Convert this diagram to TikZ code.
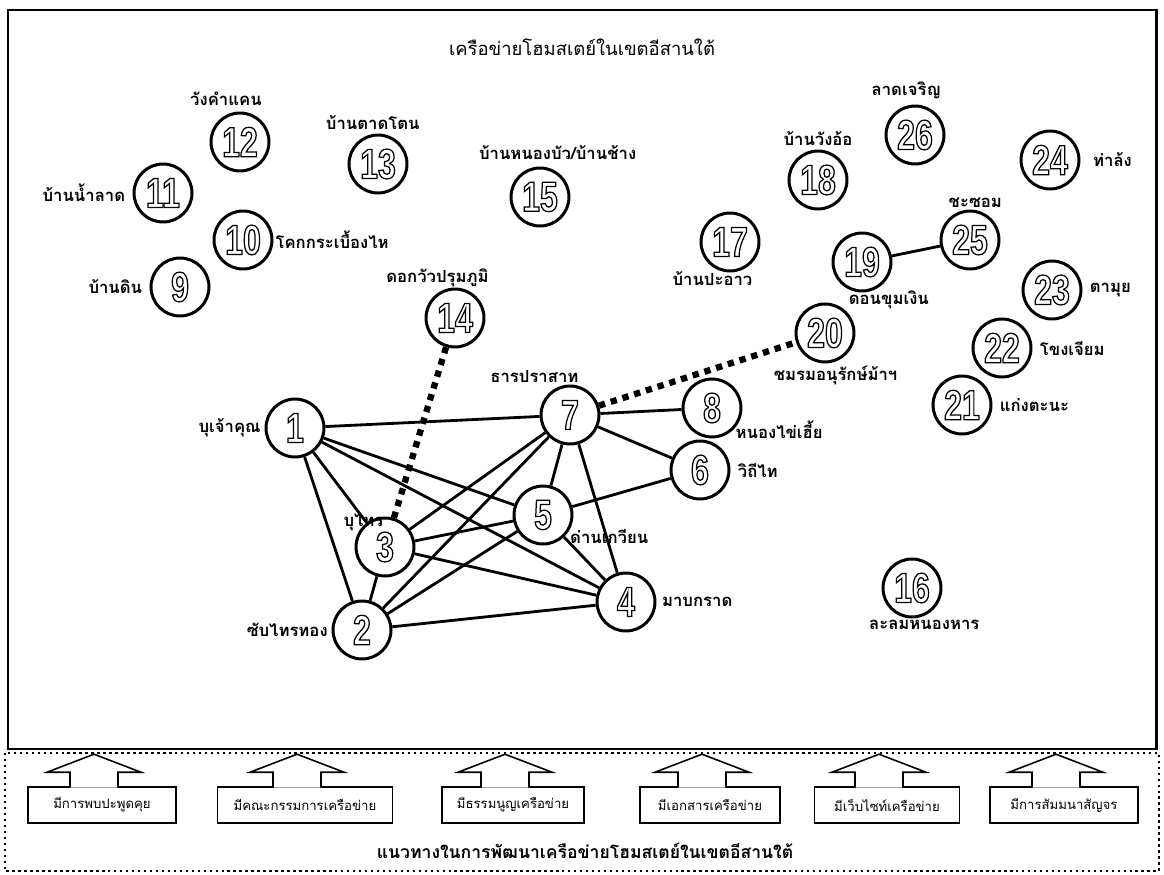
\documentclass[tikz,border=0pt]{standalone}
\usepackage{fontspec}
\setmainfont[Script=Thai]{Loma}
\newfontfamily\numfont[FakeStretch=0.76]{Liberation Sans}
\usetikzlibrary{positioning}

\newcommand{\hollow}[1]{\special{pdf:literal direct q 1 Tr 0.7 w}#1\special{pdf:literal direct Q}}

\begin{document}
\begin{tikzpicture}[x=0.02cm,y=-0.02cm,auto,node distance=1pt,
	site node/.style={circle,draw,line width=1.7pt,minimum size=1.16cm,inner sep=0pt,
		font=\numfont\bfseries\fontsize{24}{24}\selectfont},
	name label/.style={inner sep=1pt,font=\bfseries\fontsize{9.5}{11}\selectfont},
	link/.style={line width=1.6pt},
	loose link/.style={line width=3.6pt,dash pattern=on 3.6pt off 3.4pt},
	plan box/.style={draw,line width=0.9pt,inner sep=2pt,minimum height=0.72cm,
		font=\fontsize{7.5}{8}\selectfont},
	plan arrow/.style={draw,line width=0.9pt,fill=white}]
	\useasboundingbox (0,0) rectangle (1164,875);
	
	% frames
	\draw[line width=1.7pt] (8,10) rectangle (1156,749);
	\draw[line width=1.4pt,dash pattern=on 1.4pt off 2pt] (5,753) rectangle (1159,871);
	\node[font=\fontsize{10.5}{12}\selectfont] (title) at (582,47) {เครือข่ายโฮมสเตย์ในเขตอีสานใต้};
	\node[font=\bfseries\fontsize{10}{12}\selectfont] (guide) at (585,851) {แนวทางในการพัฒนาเครือข่ายโฮมสเตย์ในเขตอีสานใต้};
	
	% homestays
	\node[site node] (n1) at (295,428) {\hollow{1}};
	\node[site node] (n2) at (362,630) {\hollow{2}};
	\node[site node] (n3) at (385,547) {\hollow{3}};
	\node[site node] (n4) at (626,602) {\hollow{4}};
	\node[site node] (n5) at (543,515) {\hollow{5}};
	\node[site node] (n6) at (700,470) {\hollow{6}};
	\node[site node] (n7) at (570,415) {\hollow{7}};
	\node[site node] (n8) at (712,408) {\hollow{8}};
	\node[site node] (n9) at (180,287) {\hollow{9}};
	\node[site node] (n10) at (243,240) {\hollow{10}};
	\node[site node] (n11) at (163,193) {\hollow{11}};
	\node[site node] (n12) at (240,142) {\hollow{12}};
	\node[site node] (n13) at (378,164) {\hollow{13}};
	\node[site node] (n14) at (455,318) {\hollow{14}};
	\node[site node] (n15) at (540,197) {\hollow{15}};
	\node[site node] (n16) at (912,588) {\hollow{16}};
	\node[site node] (n17) at (730,242) {\hollow{17}};
	\node[site node] (n18) at (818,180) {\hollow{18}};
	\node[site node] (n19) at (862,262) {\hollow{19}};
	\node[site node] (n20) at (825,333) {\hollow{20}};
	\node[site node] (n21) at (962,405) {\hollow{21}};
	\node[site node] (n22) at (1002,348) {\hollow{22}};
	\node[site node] (n23) at (1052,290) {\hollow{23}};
	\node[site node] (n24) at (1050,160) {\hollow{24}};
	\node[site node] (n25) at (970,240) {\hollow{25}};
	\node[site node] (n26) at (915,135) {\hollow{26}};
	
	\node[name label] (l1) [left=of n1] {บุเจ้าคุณ};
	\node[name label] (l2) [left=of n2] {ซับไทรทอง};
	\node[name label] (l3) [above=-4pt of n3.north west] {บุไทร};
	\node[name label] (l4) [right=2pt of n4] {มาบกราด};
	\node[name label] (l5) [right=2pt of n5.south east] {ด่านเกวียน};
	\node[name label] (l6) [right=3pt of n6] {วิถีไท};
	\node[name label] (l7) [above=5pt of n7.north west, xshift=-8pt] {ธารปราสาท};
	\node[name label] (l8) [right=0pt of n8.south east] {หนองไข่เฮี้ย};
	\node[name label] (l9) [left=3pt of n9] {บ้านดิน};
	\node[name label] (l10) [right=0pt of n10] {โคกกระเบื้องไห};
	\node[name label] (l11) [left=3pt of n11] {บ้านน้ำลาด};
	\node[name label] (l12) [above=2pt of n12, xshift=-8pt] {วังคำแคน};
	\node[name label] (l13) [above=1pt of n13, xshift=-3pt] {บ้านตาดโตน};
	\node[name label] (l14) [above=-1pt of n14, xshift=-10pt] {ดอกวัวปรุมภูมิ};
	\node[name label] (l15) [above=3pt of n15, xshift=10pt] {บ้านหนองบัว/บ้านช้าง};
	\node[name label] (l16) [below=0pt of n16, xshift=7pt] {ละลมหนองหาร};
	\node[name label] (l17) [below=-2pt of n17, xshift=-10pt] {บ้านปะอาว};
	\node[name label] (l18) [above=1pt of n18] {บ้านวังอ้อ};
	\node[name label] (l19) [below=3pt of n19.south east, xshift=3pt] {ดอนขุมเงิน};
	\node[name label] (l20) [below=0pt of n20, xshift=6pt] {ชมรมอนุรักษ์ม้าฯ};
	\node[name label] (l21) [right=3pt of n21] {แก่งตะนะ};
	\node[name label] (l22) [right=3pt of n22] {โขงเจียม};
	\node[name label] (l23) [right=3pt of n23] {ตามุย};
	\node[name label] (l24) [right=6pt of n24] {ท่าล้ง};
	\node[name label] (l25) [above=0pt of n25, xshift=3pt] {ชะซอม};
	\node[name label] (l26) [above=2pt of n26, xshift=-5pt] {ลาดเจริญ};
	
	\path[link]
	(n1) edge (n7) edge (n2) edge (n3) edge (n5) edge (n4)
	(n7) edge (n8) edge (n6) edge (n5) edge (n4) edge (n3) edge (n2)
	(n5) edge (n3) edge (n2) edge (n4) edge (n6)
	(n3) edge (n2) edge (n4)
	(n2) edge (n4)
	(n19) edge (n25);
	\path[loose link]
	(n14) edge (n3)
	(n7) edge (n20);
	
	% development guidelines
	\node[plan box, minimum width=2.95cm] (b1) at (102,805) {มีการพบปะพูดคุย};
	\node[plan box, minimum width=3.5cm] (b2) at (305,805) {มีคณะกรรมการเครือข่าย};
	\node[plan box, minimum width=2.85cm] (b3) at (513,805) {มีธรรมนูญเครือข่าย};
	\node[plan box, minimum width=2.8cm] (b4) at (710,805) {มีเอกสารเครือข่าย};
	\node[plan box, minimum width=2.9cm] (b5) at (887,805) {มีเว็บไซท์เครือข่าย};
	\node[plan box, minimum width=2.95cm] (b6) at (1064,805) {มีการสัมมนาสัญจร};
	
	\draw[plan arrow] (b1.north) ++(-32,1.5) -- ++(0,-15.5) -- ++(-23,0) -- ++(47,-18) -- ++(47,18) -- ++(-23,0) -- ++(0,15.5);
	\draw[plan arrow] (b2.north) ++(-32,1.5) -- ++(0,-15.5) -- ++(-23,0) -- ++(47,-18) -- ++(47,18) -- ++(-23,0) -- ++(0,15.5);
	\draw[plan arrow] (b3.north) ++(-32,1.5) -- ++(0,-15.5) -- ++(-23,0) -- ++(47,-18) -- ++(47,18) -- ++(-23,0) -- ++(0,15.5);
	\draw[plan arrow] (b4.north) ++(-32,1.5) -- ++(0,-15.5) -- ++(-23,0) -- ++(47,-18) -- ++(47,18) -- ++(-23,0) -- ++(0,15.5);
	\draw[plan arrow] (b5.north) ++(-32,1.5) -- ++(0,-15.5) -- ++(-23,0) -- ++(47,-18) -- ++(47,18) -- ++(-23,0) -- ++(0,15.5);
	\draw[plan arrow] (b6.north) ++(-32,1.5) -- ++(0,-15.5) -- ++(-23,0) -- ++(47,-18) -- ++(47,18) -- ++(-23,0) -- ++(0,15.5);
\end{tikzpicture}
\end{document}
